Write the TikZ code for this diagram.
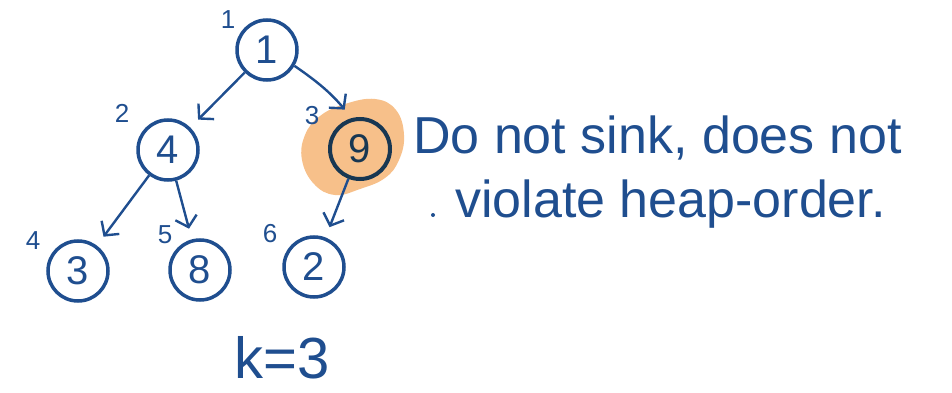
\documentclass[tikz,border=0pt]{standalone}
\usepackage{fontspec}
\setmainfont{Liberation Sans}
\usetikzlibrary{arrows.meta}
\definecolor{penblue}{HTML}{1F4E8F}
\definecolor{pendark}{HTML}{183752}
\definecolor{hilite}{HTML}{F7C08A}
\tikzset{
  key/.style={circle, draw=penblue, line width=3.5pt, minimum size=60pt, inner sep=0pt,
    text=penblue, font=\fontsize{40}{40}\selectfont},
  idx/.style={text=penblue, font=\fontsize{26}{26}\selectfont, inner sep=0pt},
  link/.style={draw=penblue, line width=2.4pt, shorten >=11pt,
    -{Straight Barb[length=10pt, width=22pt, line width=2.4pt]}},
  note/.style={text=penblue, font=\fontsize{52}{52}\selectfont, inner sep=0pt, anchor=base west}
}
\begin{document}
\begin{tikzpicture}[x=1pt, y=-1pt]
  \useasboundingbox (0,0) rectangle (952,393);
  \fill[hilite] plot[smooth cycle, tension=0.7] coordinates {
    (305,135) (320,116) (345,104) (375,99) (396,110) (404,135) (399,160)
    (385,178) (360,189) (335,195) (314,184) (302,160)};
  \node[key] (n1) at (267,50) {1};
  \node[key] (n2) at (168,150) {4};
  \node[key, draw=pendark, text=pendark, line width=4pt] (n3) at (360,149) {9};
  \node[key] (n4) at (78,271) {3};
  \node[key] (n5) at (200,270) {8};
  \node[key] (n6) at (314,267) {2};
  \node[idx] (i1) at (228,20) {1};
  \node[idx] (i2) at (122,113) {2};
  \node[idx] (i3) at (312,116) {3};
  \node[idx] (i4) at (33,241) {4};
  \node[idx] (i5) at (165,235) {5};
  \node[idx] (i6) at (270,234) {6};
  \draw[link] (n1) -- (n2);
  \draw[link] (n1.-30) to[bend left=8] (n3.105);
  \draw[link] (n2) -- (n4);
  \draw[link] (n2) -- (n5);
  \draw[link, draw=penblue] (n3) -- (n6);
  \node[note] (t1) at (413,153) {Do not sink, does not};
  \fill[penblue] (433,215) circle (2pt);
  \node[note] (t2) at (455,217) {violate heap-order.};
  \node[text=penblue, font=\fontsize{58}{58}\selectfont, inner sep=0pt, anchor=base] (k) at (282,378) {k=3};
\end{tikzpicture}
\end{document}
